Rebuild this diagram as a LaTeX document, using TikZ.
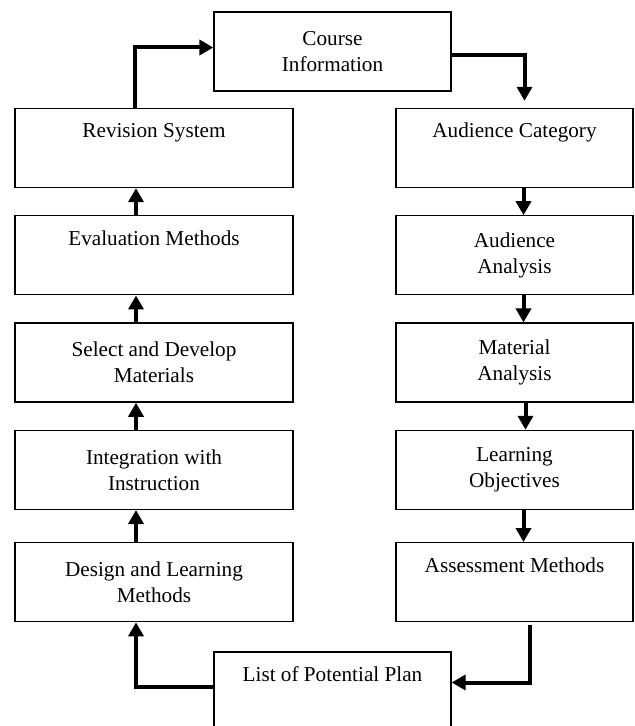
\documentclass[tikz,border=0pt]{standalone}
\usepackage{fontspec}
\setmainfont{Liberation Serif}
\usetikzlibrary{arrows.meta,positioning}
\tikzstyle{stage} = [rectangle, draw, line width=0.65pt, align=center,
    minimum width=118.5pt, minimum height=39.5pt, inner sep=2pt,
    font=\fontsize{10.6}{13}\selectfont]
\tikzstyle{wide} = [stage, minimum width=139pt]
\tikzstyle{oneline} = [text height=7.5pt, text depth=17.5pt]

\begin{document}
\begin{tikzpicture}[-{Triangle[length=7pt,width=7.5pt]},line width=2pt,
                    node distance=13.5pt]
  \useasboundingbox (0,0) rectangle (317pt,-363pt);

  \node[stage]         (course)  at (166.25pt,-25.75pt) {Course\\Information};
  \node[wide,oneline]  (rev)     at (77pt,-74pt)        {Revision System};
  \node[wide,oneline]  (eval)    [below=of rev]         {Evaluation Methods};
  \node[wide]          (select)  [below=of eval]        {Select and Develop\\Materials};
  \node[wide]          (integ)   [below=of select]      {Integration with\\Instruction};
  \node[wide]          (design)  [below=16pt of integ]  {Design and Learning\\Methods};

  \node[stage,oneline] (aucat)   at (257.25pt,-74pt)    {Audience Category};
  \node[stage]         (auanal)  [below=of aucat]       {Audience\\Analysis};
  \node[stage]         (matanal) [below=of auanal]      {Material\\Analysis};
  \node[stage]         (objec)   [below=of matanal]     {Learning\\Objectives};
  \node[stage,oneline] (assess)  [below=16pt of objec]  {Assessment Methods};

  \node[stage,oneline] (plan)    at (166.25pt,-345.75pt) {List of Potential Plan};

  \draw ([xshift=-9.5pt]rev.north) |- ([yshift=2pt]course.west);
  \draw[shorten >=3.5pt] ([yshift=-2pt]course.east) -| ([xshift=5pt]aucat.north);

  \path ([xshift=4.5pt]aucat.south)   edge ([xshift=4.5pt]auanal.north)
        ([xshift=4.5pt]auanal.south)  edge ([xshift=4.5pt]matanal.north)
        ([xshift=5.5pt]matanal.south) edge ([xshift=5.5pt]objec.north)
        ([xshift=4.5pt]objec.south)   edge ([xshift=4.5pt]assess.north);

  \draw ([xshift=7.75pt,yshift=-1.5pt]assess.south) |- ([yshift=4.5pt]plan.east);
  \draw ([yshift=2.5pt]plan.west) -| ([xshift=-9pt]design.south);

  \path ([xshift=-9pt]design.south |- design.north) edge ([xshift=-9pt]integ.south)
        ([xshift=-9pt]integ.north)  edge ([xshift=-9pt]select.south)
        ([xshift=-9pt]select.north) edge ([xshift=-9pt]eval.south)
        ([xshift=-9pt]eval.north)   edge ([xshift=-9pt]rev.south);
\end{tikzpicture}
\end{document}
